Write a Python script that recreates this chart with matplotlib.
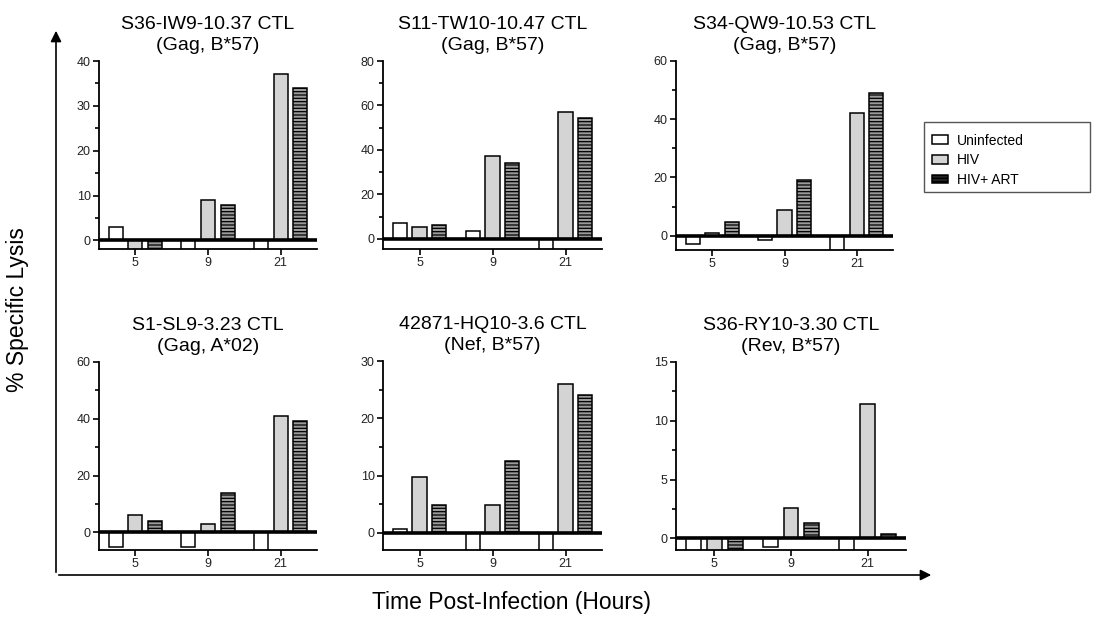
import matplotlib.pyplot as plt
import numpy as np
from matplotlib.patches import Patch, Rectangle, FancyArrowPatch

plt.rcParams['font.family'] = ['Liberation Sans', 'DejaVu Sans']
plt.rcParams['hatch.linewidth'] = 0.9

hours = ['5', '9', '21']
titles = ['S36-IW9-10.37 CTL\n(Gag, B*57)',
          'S11-TW10-10.47 CTL\n(Gag, B*57)',
          'S34-QW9-10.53 CTL\n(Gag, B*57)',
          'S1-SL9-3.23 CTL\n(Gag, A*02)',
          '42871-HQ10-3.6 CTL\n(Nef, B*57)',
          'S36-RY10-3.30 CTL\n(Rev, B*57)']

# % specific lysis at 5, 9, 21 h for each CTL clone
uninfected = [[3, -2.5, -2.5],
              [7, 3.3, -5],
              [-3, -1.3, -5.5],
              [-5.2, -5.2, -7],
              [0.6, -3.5, -3.5],
              [-1.2, -0.75, -1.2]]
hiv = [[-2.5, 9, 37],
       [5.4, 37.2, 57.2],
       [1, 9, 42],
       [6, 2.9, 41],
       [9.7, 4.9, 26],
       [-1.2, 2.55, 11.45]]
hiv_art = [[-2.5, 8, 34],
           [6.4, 33.9, 54.4],
           [4.8, 19, 49],
           [3.9, 14, 39.2],
           [4.9, 12.6, 24],
           [-1.2, 1.3, 0.35]]

y_max = [40, 80, 60, 60, 30, 15]
y_min = [-1.9, -4.6, -4.9, -6.2, -3.0, -1.0]
y_step = [10, 20, 20, 20, 10, 5]

# axes boxes in pixels: left, top, right, bottom
boxes = [(99, 61, 317, 249), (383, 61, 602, 249), (676, 61, 893, 250),
         (99, 362, 317, 550), (383, 361, 602, 550), (676, 362, 906, 550)]

W, H = 1096, 617
fig = plt.figure(figsize=(W / 100, H / 100), dpi=100)

x = np.arange(len(hours))
bw = 0.195
off = 0.27
for i in range(6):
    l, t, r, b = boxes[i]
    ax = fig.add_axes([l / W, 1 - b / H, (r - l) / W, (b - t) / H])
    ax.bar(x - off, uninfected[i], bw, color='white', edgecolor='black', lw=1.1)
    ax.bar(x, hiv[i], bw, color='#d4d4d4', edgecolor='black', lw=1.1)
    ax.bar(x + off, hiv_art[i], bw, color='#9a9a9a', edgecolor='black', lw=1.1,
           hatch='-----')
    ax.axhline(0, color='black', lw=2.6, zorder=4)
    ax.set_xlim(-0.5, 2.5)
    ax.set_ylim(y_min[i], y_max[i])
    ax.set_xticks(x)
    ax.set_xticklabels(hours)
    major = np.arange(0, y_max[i] + 0.01, y_step[i])
    ax.set_yticks(major)
    ax.set_yticks(major[:-1] + y_step[i] / 2, minor=True)
    ax.set_yticklabels([str(int(v)) for v in major])
    ax.spines['top'].set_visible(False)
    ax.spines['right'].set_visible(False)
    ax.spines['left'].set_linewidth(1.3)
    ax.spines['bottom'].set_linewidth(1.3)
    ax.tick_params(axis='both', which='major', length=4, width=1.2,
                   labelsize=9, pad=2, labelcolor='#222222')
    ax.tick_params(axis='y', which='minor', length=3, width=1.2)
    ax.set_title(titles[i], fontsize=14, pad=8, linespacing=1.3)

# long axis arrows around the grid
fig.add_artist(FancyArrowPatch((56 / W, 1 - 575 / H), (56 / W, 1 - 28 / H),
                               transform=fig.transFigure, arrowstyle='-|>',
                               mutation_scale=16, lw=1.2, color='black'))
fig.add_artist(FancyArrowPatch((56 / W, 1 - 575 / H), (934 / W, 1 - 575 / H),
                               transform=fig.transFigure, arrowstyle='-|>',
                               mutation_scale=16, lw=1.2, color='black'))

fig.text(18 / W, 1 - 310 / H, '% Specific Lysis', rotation=90, fontsize=16.5,
         ha='center', va='center')
fig.text(511 / W, 1 - 603 / H, 'Time Post-Infection (Hours)', fontsize=16.5,
         ha='center', va='center')

# legend
fig.add_artist(Rectangle((924 / W, 1 - 192 / H), 166 / W, 70 / H,
                         transform=fig.transFigure, fill=False,
                         edgecolor='#555555', lw=1.0))
handles = [Patch(facecolor='white', edgecolor='black', lw=1.1, label='Uninfected'),
           Patch(facecolor='#d4d4d4', edgecolor='black', lw=1.1, label='HIV'),
           Patch(facecolor='#222222', edgecolor='black', lw=1.1, hatch='-----',
                 label='HIV+ ART')]
fig.legend(handles=handles, loc='upper left',
           bbox_to_anchor=(929 / W, 1 - 131 / H), frameon=False, fontsize=10,
           handlelength=1.2, handleheight=0.6, handletextpad=0.6,
           labelspacing=0.4, borderpad=0.2, borderaxespad=0)

fig.savefig('out.png', dpi=100)
